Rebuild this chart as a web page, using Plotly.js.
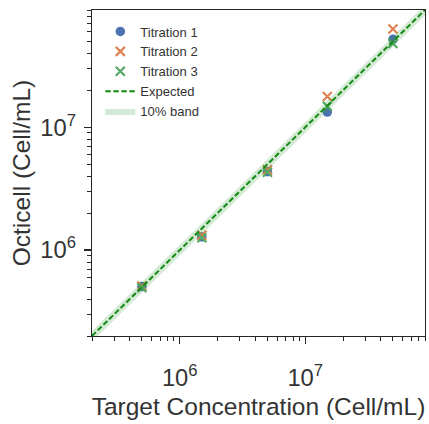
<!DOCTYPE html>
<html>
<head>
<meta charset="utf-8">
<script src="https://cdn.plot.ly/plotly-3.0.1.min.js"></script>
<style>html,body{margin:0;padding:0;background:#fff;}#chart{width:429px;height:424px;}</style>
</head>
<body>
<div id="chart"></div>
<script>
// Data
const targets = [5e5, 1.5e6, 5e6, 1.5e7, 5e7];
const titration1 = [5.05e5, 1.28e6, 4.35e6, 1.33e7, 5.2e7];
const titration2 = [5.1e5, 1.32e6, 4.5e6, 1.78e7, 6.3e7];
const titration3 = [4.95e5, 1.26e6, 4.3e6, 1.48e7, 4.8e7];
const expectedX = [2e5, 9e7];
const bandLow = 0.9, bandHigh = 1.1;
const seriesNames = ["Titration 1", "Titration 2", "Titration 3", "Expected", "10% band"];
const colors = {t1: "#4C72B0", t2: "#DD8452", t3: "#55A868", exp: "#138a13", band: "rgba(40,150,40,0.2)"};

const traces = [
  {x: targets, y: titration1, name: seriesNames[0], mode: "markers", type: "scatter", legendrank: 1,
   marker: {symbol: "circle", size: 9.5, color: colors.t1}},
  {x: targets, y: titration2, name: seriesNames[1], mode: "markers", type: "scatter", legendrank: 2,
   marker: {symbol: "x-thin-open", size: 9, line: {width: 2.2, color: colors.t2}, color: colors.t2}},
  {x: targets, y: titration3, name: seriesNames[2], mode: "markers", type: "scatter", legendrank: 3,
   marker: {symbol: "x-thin-open", size: 9, line: {width: 2.2, color: colors.t3}, color: colors.t3}},
  {x: expectedX, y: expectedX.map(v => v * bandLow), mode: "lines", type: "scatter", showlegend: false,
   line: {width: 0, color: "rgba(0,0,0,0)"}, hoverinfo: "skip"},
  {x: expectedX, y: expectedX.map(v => v * bandHigh), name: seriesNames[4], mode: "lines", type: "scatter",
   fill: "tonexty", fillcolor: colors.band, line: {width: 0, color: "rgba(0,0,0,0)"}, legendrank: 5},
  {x: expectedX, y: expectedX, name: seriesNames[3], mode: "lines", type: "scatter", legendrank: 4,
   line: {color: colors.exp, width: 2, dash: "5.5px,2.5px"}}
];

const axisCommon = {
  type: "log",
  range: [Math.log10(2e5), Math.log10(9e7)],
  dtick: 1,
  exponentformat: "power",
  showgrid: false,
  zeroline: false,
  showline: true,
  linecolor: "#262626",
  linewidth: 1.3,
  mirror: true,
  ticks: "outside",
  ticklen: 7,
  tickwidth: 1.3,
  tickcolor: "#262626",
  tickfont: {size: 19, color: "#333333"},
  minor: {ticks: "outside", ticklen: 4, tickwidth: 1, tickcolor: "#262626", dtick: "D1", showgrid: false}
};

const layout = {
  width: 429, height: 424,
  margin: {l: 92, r: 4, t: 10, b: 88},
  paper_bgcolor: "#ffffff", plot_bgcolor: "#ffffff",
  font: {family: "Liberation Sans, Arial, sans-serif", color: "#333333"},
  showlegend: true,
  legend: {x: 0.025, y: 0.98, xanchor: "left", yanchor: "top", traceorder: "normal", bgcolor: "rgba(255,255,255,0)",
           font: {size: 13, color: "#333333"}, borderwidth: 0},
  xaxis: Object.assign({}, axisCommon, {ticklabelstandoff: 14,
    title: {text: "Target Concentration (Cell/mL)", font: {size: 24.5, color: "#333333"}, standoff: 8}}),
  yaxis: Object.assign({}, axisCommon, {ticklabelstandoff: 4,
    title: {text: "Octicell (Cell/mL)", font: {size: 24.5, color: "#333333"}, standoff: 2}})
};

Plotly.newPlot("chart", traces, layout, {displayModeBar: false, staticPlot: true});
</script>
</body>
</html>
